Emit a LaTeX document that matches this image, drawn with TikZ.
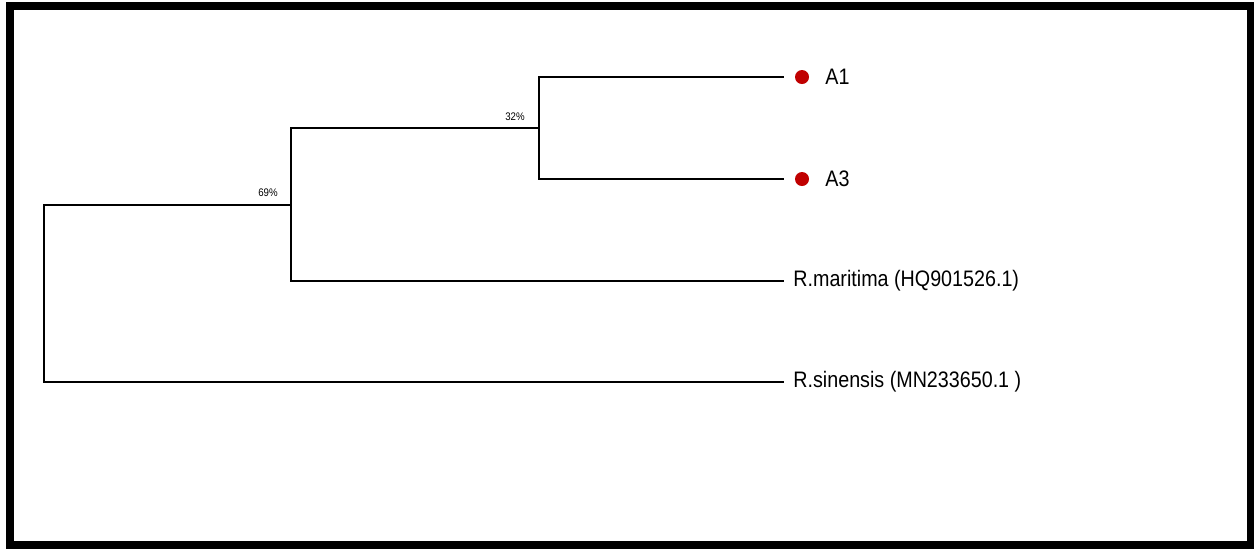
\documentclass[tikz,border=0pt]{standalone}
\usepackage{fontspec}
\setmainfont{Liberation Sans}
\usepackage{graphicx}
\definecolor{tipred}{RGB}{192,0,0}
\tikzset{
  branch/.style={line width=0.75pt, black},
  taxon/.style={anchor=west, inner sep=0pt, font=\fontsize{11.2}{13}\selectfont},
  support/.style={inner sep=0pt, font=\fontsize{5.5}{6.5}\selectfont},
  tipdot/.style={circle, fill=tipred, minimum size=7pt, inner sep=0pt},
}
\newcommand{\narrow}[1]{\scalebox{0.88}[1]{#1}}
\begin{document}
\begin{tikzpicture}[x=0.5pt, y=-0.5pt]
  \useasboundingbox (0,0) rectangle (1254,548);
  \fill[white] (0,0) rectangle (1254,548);
  % frame
  \draw[line width=4pt] (10,6) rectangle (1250.5,544.5);

  % internal nodes
  \coordinate (root) at (44,293.5);
  \coordinate (n69) at (291,205);
  \coordinate (n32) at (539,128);
  % tips
  \coordinate (tA1) at (784,77);
  \coordinate (tA3) at (784,179);
  \coordinate (tRm) at (784,281);
  \coordinate (tRs) at (784,382);

  % branches
  \draw[branch] (root) |- (n69);
  \draw[branch] (root) |- (tRs);
  \draw[branch] (n69) |- (n32);
  \draw[branch] (n69) |- (tRm);
  \draw[branch] (n32) |- (tA1);
  \draw[branch] (n32) |- (tA3);

  % bootstrap support
  \node[support] (s69) at (268,193) {\narrow{69\%}};
  \node[support] (s32) at (515,117) {\narrow{32\%}};

  % tip markers and labels
  \node[tipdot] (dA1) at (802,77) {};
  \node[tipdot] (dA3) at (802,179) {};
  \node[taxon] (lA1) at (825,77) {\narrow{A1}};
  \node[taxon] (lA3) at (825,179) {\narrow{A3}};
  \node[taxon] (lRm) at (793,281) {\narrow{R.maritima (HQ901526.1)}};
  \node[taxon] (lRs) at (793,382) {\narrow{R.sinensis (MN233650.1 )}};
\end{tikzpicture}
\end{document}
